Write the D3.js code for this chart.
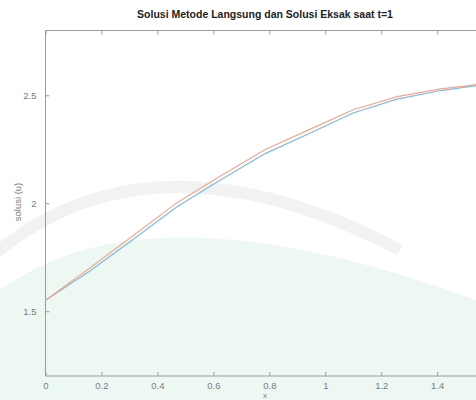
<!DOCTYPE html>
<html>
  <head>
    <meta charset="utf-8">
    <title>Solusi Metode Langsung dan Solusi Eksak</title>
    <script src="https://d3js.org/d3.v7.min.js"></script>
    <style>
      body { margin: 0; background: #fff; }
      svg { display: block; font-family: "Liberation Sans", Arial, sans-serif; }
    </style>
  </head>
  <body>
    <div id="chart"></div>
    <script>
      // data: nodes at k*pi/20
      const xNodes = d3.range(11).map(k => k * Math.PI / 20);
      const langsung = [1.551, 1.685, 1.833, 1.985, 2.110, 2.230, 2.323, 2.418, 2.482, 2.522, 2.550];
      const eksak = [1.551, 1.699, 1.851, 2.004, 2.128, 2.249, 2.341, 2.433, 2.494, 2.530, 2.554];
      const xTicks = [0, 0.2, 0.4, 0.6, 0.8, 1, 1.2, 1.4];
      const yTicks = [1.5, 2, 2.5];

      const width = 476, height = 400;
      const margin = { top: 30.5, bottom: 24, left: 45.5, right: -9 };

      const svg = d3.select("#chart")
        .append("svg")
        .attr("width", width)
        .attr("height", height);

      const x = d3.scaleLinear()
        .domain([0, Math.PI / 2])
        .range([margin.left, width - margin.right]);
      const y = d3.scaleLinear()
        .domain([1.2, 2.8])
        .range([height - margin.bottom, margin.top]);

      // faint watermark in the background
      const wm = svg.append("g");
      wm.append("path")
        .attr("d", "M0,290 Q150,180 476,300 L476,400 L0,400 Z")
        .attr("fill", "#eef8f3");
      wm.append("path")
        .attr("d", "M-10,258 Q150,120 400,250")
        .attr("fill", "none")
        .attr("stroke", "#f2f2f2")
        .attr("stroke-width", 12);

      // axes
      const axisColor = "#9a9a9a";
      const gBottom = svg.append("g")
        .attr("transform", `translate(0,${y.range()[0]})`)
        .call(d3.axisBottom(x).tickValues(xTicks).tickSize(-4).tickPadding(6)
          .tickFormat(d3.format("")));
      const gTop = svg.append("g")
        .attr("transform", `translate(0,${margin.top})`)
        .call(d3.axisTop(x).tickValues(xTicks).tickSize(-4).tickFormat(""));
      const gLeft = svg.append("g")
        .attr("transform", `translate(${margin.left},0)`)
        .call(d3.axisLeft(y).tickValues(yTicks).tickSize(-4).tickPadding(9)
          .tickFormat(d3.format("")));
      [gBottom, gTop, gLeft].forEach(g => {
        g.select(".domain").attr("stroke", axisColor);
        g.selectAll(".tick line").attr("stroke", axisColor);
        g.selectAll(".tick text").attr("fill", "#7a7a7a").attr("font-size", 9.5);
      });
      gTop.select(".domain").attr("d", `M${margin.left},0H${width + 20}`);
      gBottom.select(".domain").attr("d", `M${margin.left},0H${width + 20}`);
      gLeft.select(".domain").attr("d", `M0,${y.range()[1]}V${y.range()[0]}`);

      // lines
      const line = d3.line()
        .x((d, i) => x(xNodes[i]))
        .y(d => y(d));
      svg.append("path")
        .datum(langsung)
        .attr("fill", "none")
        .attr("stroke", "#7fb9e6")
        .attr("stroke-width", 1.2)
        .attr("d", line);
      svg.append("path")
        .datum(eksak)
        .attr("fill", "none")
        .attr("stroke", "#f2a88c")
        .attr("stroke-width", 1.2)
        .attr("d", line);

      // labels
      svg.append("text")
        .attr("x", 265)
        .attr("y", 18)
        .attr("text-anchor", "middle")
        .attr("font-size", 10.5)
        .attr("font-weight", "bold")
        .attr("fill", "#222")
        .text("Solusi Metode Langsung dan Solusi Eksak saat t=1");
      svg.append("text")
        .attr("x", 265)
        .attr("y", 397.5)
        .attr("text-anchor", "middle")
        .attr("font-size", 8)
        .attr("fill", "#7a7a7a")
        .text("x");
      svg.append("text")
        .attr("transform", "translate(21,202) rotate(-90)")
        .attr("text-anchor", "middle")
        .attr("font-size", 9.5)
        .attr("fill", "#7a7a7a")
        .text("solusi (u)");
    </script>
  </body>
</html>
